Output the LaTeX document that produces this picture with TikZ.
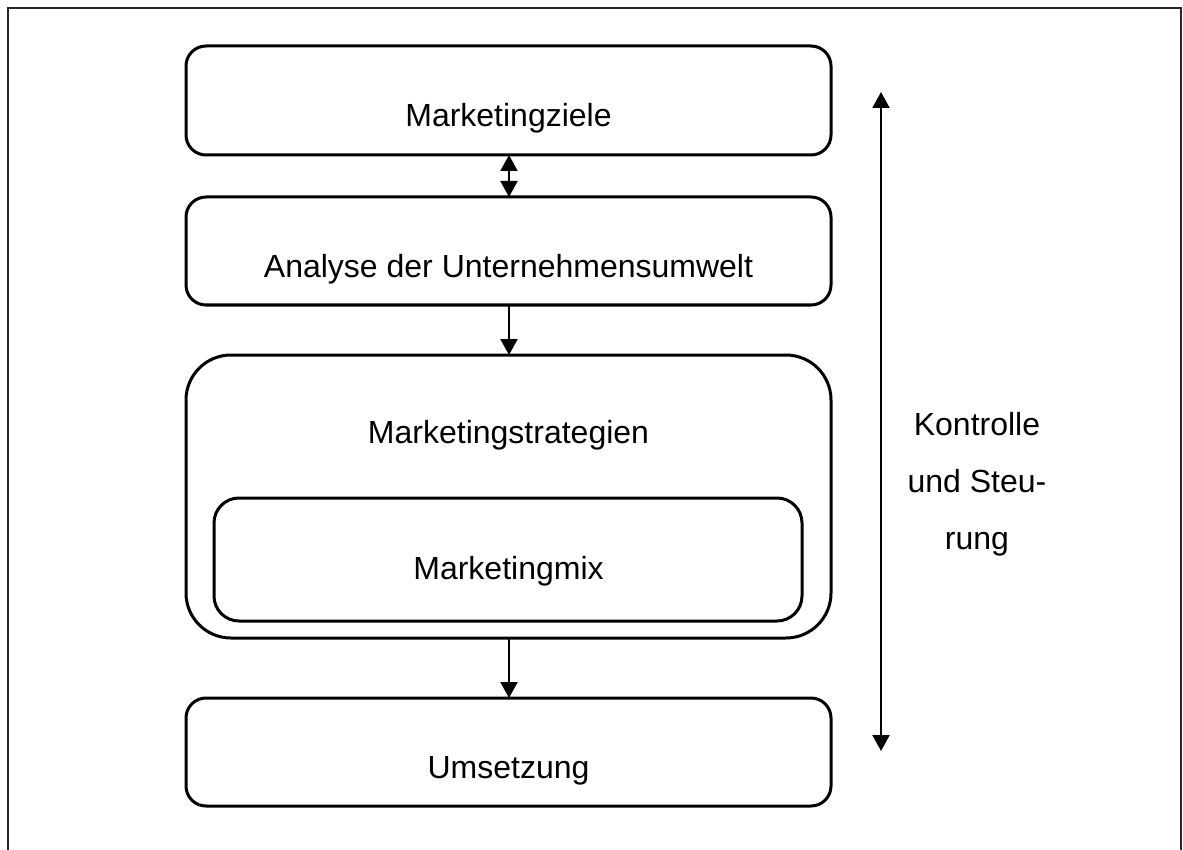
\documentclass[tikz,border=0pt]{standalone}
\usepackage{fontspec}
\setmainfont{Liberation Sans}
\usetikzlibrary{arrows.meta}
\begin{document}
\begin{tikzpicture}[x=1pt,y=-1pt,
  every node/.style={font=\fontsize{32}{57}\selectfont, inner sep=0pt},
  stage/.style={draw, line width=3pt, rounded corners=20pt},
  flow/.style={line width=2pt, -{Triangle[width=17pt,length=16pt]}},
  flowboth/.style={line width=2pt, {Triangle[width=17pt,length=16pt]}-{Triangle[width=17pt,length=16pt]}}]
  \useasboundingbox (0,0) rectangle (1183,850);
  % open frame (top, left, right)
  \draw[line width=2pt, black!85] (8,851) -- (8,8) -- (1181,8) -- (1181,851);
  % stages
  \draw[stage] (186,46) rectangle (831,155);
  \node (ziele) at (508.5,118) {Marketingziele};
  \coordinate (zieleB) at (509,155);
  \draw[stage] (186,197) rectangle (831,305);
  \node (analyse) at (508.5,269) {Analyse der Unternehmensumwelt};
  \coordinate (analyseT) at (509,197);
  \coordinate (analyseB) at (509,305);
  \draw[stage, rounded corners=45pt] (186,355) rectangle (831,638);
  \node (strat) at (508.5,435) {Marketingstrategien};
  \coordinate (stratT) at (509,355);
  \coordinate (stratB) at (509,638);
  \draw[stage, rounded corners=25pt] (214,498) rectangle (802,621);
  \node (mix) at (508.5,571) {Marketingmix};
  \draw[stage] (186,698) rectangle (831,806);
  \node (umsetzung) at (508.5,771) {Umsetzung};
  \coordinate (umsT) at (509,698);
  % connectors
  \draw[flowboth] (zieleB) -- (analyseT);
  \draw[flow] (analyseB) -- (stratT);
  \draw[flow] (stratB) -- (umsT);
  % control arrow
  \coordinate (ctop) at (881,92);
  \coordinate (cbot) at (881,751);
  \draw[flowboth] (ctop) -- (cbot);
  \node[align=center] (kontrolle) at (977,484) {Kontrolle\\und Steu-\\rung};
\end{tikzpicture}
\end{document}
